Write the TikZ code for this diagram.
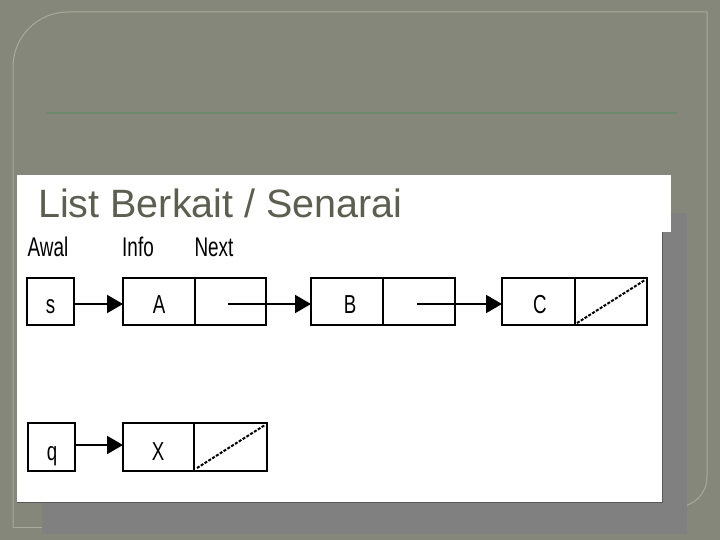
\documentclass[tikz,border=0pt]{standalone}
\usepackage{fontspec}
\setmainfont{Liberation Sans}
\usetikzlibrary{arrows.meta}
\definecolor{bgc}{HTML}{85877A}
\definecolor{framec}{HTML}{A9AB9A}
\definecolor{greenl}{HTML}{6E8A6C}
\definecolor{titlec}{HTML}{5C5E50}
\definecolor{shadowc}{HTML}{808080}
\tikzset{
  cell/.style={draw=black, line width=2pt},
  lbl/.style={inner sep=0pt, font=\fontsize{27}{27}\selectfont},
  val/.style={inner sep=0pt, anchor=base, font=\fontsize{26}{26}\selectfont},
  ptr/.style={line width=2pt, -{Triangle[length=16pt,width=18pt]}},
  nil/.style={line width=2pt, dash pattern=on 3pt off 1.5pt},
}
\newcommand{\nrw}[1]{\scalebox{0.72}[1]{#1}}
\begin{document}
\begin{tikzpicture}[x=1pt,y=-1pt]
\useasboundingbox (0,0) rectangle (720,540);
\fill[bgc] (0,0) rectangle (720,540);
% outer frame
\draw[framec, line width=1pt] (13,527) -- (13,67) arc[start angle=180,end angle=270,radius=55] -- (707,12) -- (707,477) arc[start angle=0,end angle=90,radius=30] -- (677,507);
\draw[framec, line width=1pt] (13,527) -- (42,527);
% green rule
\draw[greenl, line width=1.5pt] (46,113) -- (677,113);
% shadow
\fill[shadowc] (42,213) rectangle (687,534);
% white panel
\fill[white] (17,175) rectangle (671,232);
\fill[white] (17,232) rectangle (662,502);
\draw[gray!70!black, line width=0.6pt] (662,232) -- (662,502) -- (17,502);
% title
\node[anchor=base west, inner sep=0pt, text=titlec, font=\fontsize{39.5}{40}\selectfont] (title) at (38,218) {List Berkait / Senarai};
% labels
\node[lbl] (awal) at (48,247) {\scalebox{0.7}[1]{Awal}};
\node[lbl] (info) at (138,247) {\scalebox{0.7}[1]{Info}};
\node[lbl] (next) at (214,247) {\scalebox{0.7}[1]{Next}};
% first list
\draw[cell] (27,278) rectangle (74,325);
\node[val] (s) at (50.5,313) {\nrw{s}};
\draw[cell] (123,278) rectangle (266,325);
\draw[cell] (195,278) -- (195,325);
\node[val] (a) at (159,313) {\nrw{A}};
\coordinate (anext) at (228,304);
\draw[cell] (311,278) rectangle (455,325);
\draw[cell] (383,278) -- (383,325);
\node[val] (b) at (350,313) {\nrw{B}};
\coordinate (bnext) at (417,304);
\draw[cell] (502,278) rectangle (647,325);
\draw[cell] (575,278) -- (575,325);
\node[val] (c) at (540,313) {\nrw{C}};
\draw[nil] (577,323) -- (645,280);
\coordinate (sout) at (74,304);
\coordinate (ain) at (123,304);
\coordinate (bin) at (311,304);
\coordinate (cin) at (502,304);
\draw[ptr] (sout) -- (ain);
\draw[ptr] (anext) -- (bin);
\draw[ptr] (bnext) -- (cin);
% second list
\draw[cell] (28,423) rectangle (75,471);
\node[val] (q) at (52,460) {\nrw{q}};
\draw[cell] (123,423) rectangle (267,471);
\draw[cell] (194,423) -- (194,471);
\node[val] (x) at (158,460) {\nrw{X}};
\draw[nil] (197,468) -- (265,425);
\coordinate (qout) at (75,445);
\coordinate (xin) at (123,445);
\draw[ptr] (qout) -- (xin);
\end{tikzpicture}
\end{document}
